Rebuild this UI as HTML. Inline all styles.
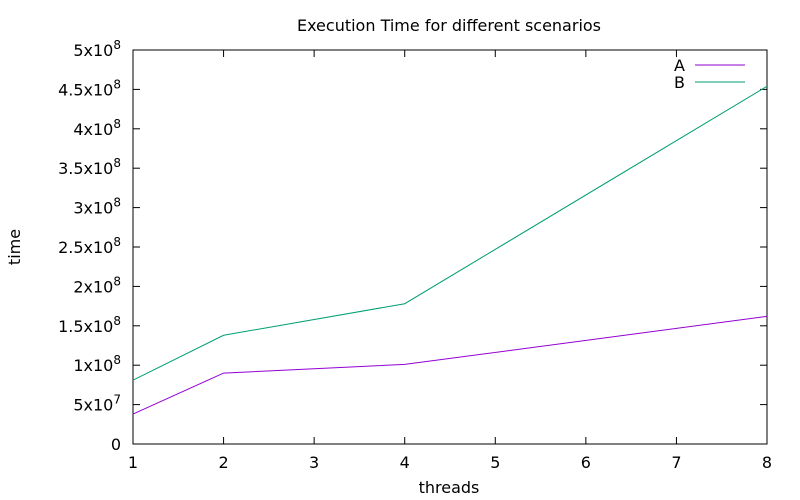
<!DOCTYPE html>
<html><head><meta charset="utf-8"><style>
html,body{margin:0;padding:0;background:#fff;}
svg{display:block;font-family:"DejaVu Sans","Liberation Sans",sans-serif;}
</style></head><body>
<svg id="chart" width="800" height="500" viewBox="0 0 800 500"></svg>
<script>
const xTicks = [1,2,3,4,5,6,7,8];
const yTickVals = [0,5e7,1e8,1.5e8,2e8,2.5e8,3e8,3.5e8,4e8,4.5e8,5e8];
const yTickMant = ["0","5","1","1.5","2","2.5","3","3.5","4","4.5","5"];
const yTickExp = ["","7","8","8","8","8","8","8","8","8","8"];
const threads = [1,2,4,8];
const seriesA = [3.8e7, 9.0e7, 1.01e8, 1.62e8];
const seriesB = [8.1e7, 1.38e8, 1.78e8, 4.54e8];

const L=133,R=767,T=50,B=444;
const FS=16;
const sx=v=>L+(v-1)/(8-1)*(R-L);
const sy=v=>B-v/5e8*(B-T);
const svg=document.getElementById('chart');
const NS='http://www.w3.org/2000/svg';
function mk(tag,attrs,parent){const e=document.createElementNS(NS,tag);for(const k in attrs)e.setAttribute(k,attrs[k]);(parent||svg).appendChild(e);return e;}

let e=mk('rect',{x:L,y:T,width:R-L,height:B-T,fill:'none',stroke:'#000','stroke-width':1});



xTicks.forEach(v=>{
  const x=sx(v);
  mk('line',{x1:x,y1:B,x2:x,y2:B-7,stroke:'#000'});
  mk('line',{x1:x,y1:T,x2:x,y2:T+7,stroke:'#000'});
  const t=mk('text',{x:x,y:468,'text-anchor':'middle','font-size':FS});
  t.textContent=v;
  
  
});
yTickVals.forEach((v,i)=>{
  const y=sy(v);
  mk('line',{x1:L,y1:y,x2:L+7,y2:y,stroke:'#000'});
  mk('line',{x1:R,y1:y,x2:R-7,y2:y,stroke:'#000'});
  const t=mk('text',{x:121,y:y+6,'text-anchor':'end','font-size':FS});
  
  
  if(yTickExp[i]){
    const a=mk('tspan',{},t);a.textContent=yTickMant[i]+'x10';
    const b=mk('tspan',{dy:-7,'font-size':12},t);b.textContent=yTickExp[i];
  } else t.textContent=yTickMant[i];
});

function line(vals,color,name){
  const p=mk('polyline',{points:threads.map((t,i)=>sx(t)+','+sy(vals[i])).join(' '),fill:'none',stroke:color,'stroke-width':1});
  
  
}
line(seriesA,'#9400d3','series-a-line');
line(seriesB,'#009e73','series-b-line');

[['A','#9400d3',65],['B','#009e73',82]].forEach(([n,c,y])=>{
  const t=mk('text',{x:685,y:y+6,'text-anchor':'end','font-size':FS});t.textContent=n;
  
  
  const l=mk('line',{x1:695,y1:y,x2:745,y2:y,stroke:c});
  
  
});

let tt=mk('text',{x:449,y:31,'text-anchor':'middle','font-size':FS});tt.textContent='Execution Time for different scenarios';


let xt=mk('text',{x:449,y:493,'text-anchor':'middle','font-size':FS});xt.textContent='threads';


let yt=mk('text',{x:20,y:247,'text-anchor':'middle','font-size':FS,transform:'rotate(-90 20 247)'});yt.textContent='time';


</script>
</body></html>
